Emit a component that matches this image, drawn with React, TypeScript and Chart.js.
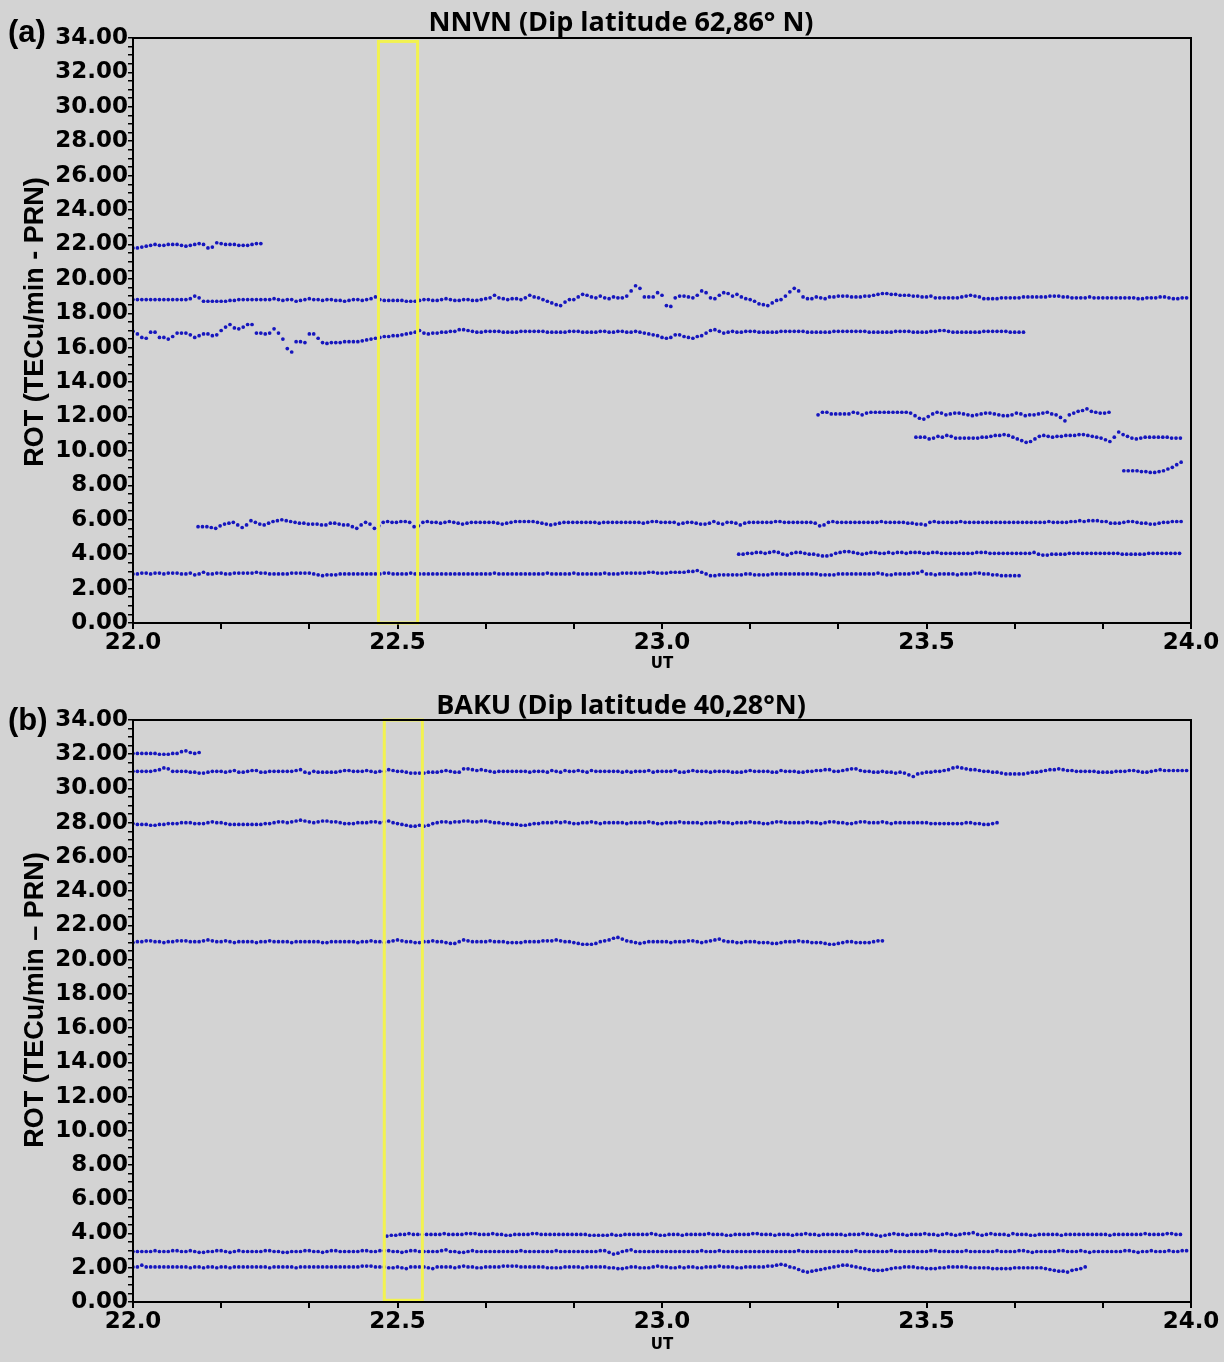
import React, { useEffect, useRef } from 'react';
import { Chart, registerables } from 'chart.js';
Chart.register(...registerables);

// ---------------- data ----------------
// sampling cadence: 30 s (in hours)
const STEP = 0.5 / 60;

const X_TICKS = [22.0, 22.1667, 22.3333, 22.5, 22.6667, 22.8333, 23.0, 23.1667, 23.3333, 23.5, 23.6667, 23.8333, 24.0];
const X_LABELS = ['22.0', '22.5', '23.0', '23.5', '24.0'];
const Y_LABELS = ['0.00', '2.00', '4.00', '6.00', '8.00', '10.00', '12.00', '14.00', '16.00', '18.00', '20.00', '22.00', '24.00', '26.00', '28.00', '30.00', '32.00', '34.00'];

// Panel (a) NNVN
const A1_START = 22.0;
const A1 = [21.8,21.8,21.85,21.9,21.95,22.0,21.95,21.95,22.0,22.0,22.0,21.95,21.9,21.95,22.0,22.05,22.0,21.8,21.85,22.1,22.05,22.0,22.0,22.0,21.95,21.95,21.95,22.0,22.05,22.05];

const A2_START = 22.0;
const A2 = [
18.8,18.8,18.8,18.8,18.8,18.8,18.8,18.8,18.8,18.8, 18.8,18.8,18.8,18.85,19.0,18.9,18.7,18.7,18.7,18.7,
18.7,18.7,18.75,18.75,18.8,18.8,18.8,18.8,18.8,18.8, 18.8,18.8,18.85,18.8,18.75,18.8,18.8,18.7,18.75,18.8,
18.85,18.8,18.8,18.75,18.8,18.8,18.75,18.75,18.7,18.75, 18.8,18.8,18.75,18.8,18.85,18.95,18.8,18.75,18.75,18.75,
18.75,18.75,18.7,18.7,18.7,18.75,18.8,18.8,18.75,18.75, 18.8,18.85,18.8,18.75,18.75,18.8,18.8,18.75,18.75,18.8,
18.85,18.9,19.05,18.9,18.85,18.8,18.85,18.85,18.8,18.9, 19.05,18.95,18.9,18.8,18.7,18.6,18.5,18.45,18.65,18.8,
18.8,18.95,19.1,19.05,18.95,18.9,19.0,18.9,18.85,18.95, 18.9,18.9,19.0,19.3,19.6,19.45,18.95,18.95,18.95,19.2,
19.05,18.45,18.4,18.9,19.0,19.0,18.95,18.9,19.05,19.3, 19.2,18.9,18.85,19.05,19.2,19.15,19.0,19.1,18.95,18.85,
18.8,18.7,18.55,18.5,18.45,18.6,18.75,18.8,19.0,19.25, 19.45,19.3,18.95,18.85,18.85,18.95,18.9,18.85,18.95,18.95,
19.0,19.0,19.0,18.95,18.95,18.95,19.0,19.0,19.05,19.1, 19.15,19.15,19.1,19.1,19.05,19.05,19.05,19.0,19.0,18.95,
18.95,19.0,18.9,18.9,18.9,18.9,18.9,18.9,18.95,19.0, 19.05,19.0,18.95,18.85,18.85,18.85,18.85,18.9,18.9,18.9,
18.9,18.9,18.95,18.95,18.95,18.95,18.95,18.95,19.0,19.0, 19.0,18.95,18.95,18.9,18.9,18.9,18.9,18.95,18.9,18.9,
18.9,18.9,18.9,18.9,18.9,18.9,18.9,18.9,18.85,18.85, 18.9,18.9,18.9,18.95,18.95,18.9,18.85,18.85,18.9,18.9];

const A3_START = 22.0;
const A3 = [
16.95,16.8,16.6,16.55,16.9,16.9,16.6,16.6,16.5,16.65, 16.85,16.85,16.85,16.75,16.6,16.7,16.8,16.8,16.7,16.75,
17.0,17.2,17.35,17.15,17.1,17.2,17.35,17.35,16.85,16.85, 16.8,16.85,17.1,16.85,16.5,15.95,15.75,16.35,16.35,16.3,
16.8,16.8,16.55,16.3,16.25,16.3,16.3,16.3,16.35,16.35, 16.35,16.35,16.4,16.45,16.5,16.55,16.6,16.65,16.65,16.7,
16.7,16.75,16.8,16.85,16.9,17.0,16.85,16.8,16.85,16.85, 16.9,16.9,16.95,16.95,17.05,17.05,17.0,16.95,16.9,16.9,
16.95,16.95,16.95,16.95,16.9,16.9,16.9,16.9,16.95,16.95, 16.95,16.95,16.95,16.95,16.9,16.9,16.9,16.9,16.9,16.95,
16.95,16.95,16.9,16.9,16.9,16.9,16.95,16.95,16.9,16.9, 16.95,16.95,16.9,16.9,16.95,16.9,16.85,16.8,16.75,16.7,
16.6,16.55,16.6,16.75,16.75,16.65,16.6,16.55,16.65,16.7, 16.85,17.0,17.05,16.95,16.85,16.9,16.95,16.9,16.9,16.95,
16.95,16.95,16.9,16.9,16.9,16.9,16.9,16.95,16.95,16.95, 16.95,16.95,16.95,16.9,16.9,16.9,16.9,16.9,16.9,16.95,
16.95,16.95,16.95,16.95,16.95,16.95,16.95,16.9,16.9,16.9, 16.9,16.9,16.9,16.95,16.95,16.95,16.95,16.9,16.9,16.9,
16.9,16.95,16.95,17.0,17.0,16.95,16.9,16.9,16.9,16.9, 16.9,16.9,16.9,16.95,16.95,16.95,16.95,16.95,16.95,16.9,
16.9,16.9,16.9];

const A4_START = 23.295;
const A4 = [
12.1,12.25,12.25,12.15,12.15,12.15,12.15,12.15,12.25,12.2, 12.1,12.2,12.25,12.25,12.25,12.25,12.25,12.25,12.25,12.25,
12.25,12.2,12.05,11.9,11.85,12.0,12.15,12.25,12.2,12.1, 12.15,12.2,12.2,12.15,12.1,12.05,12.1,12.15,12.2,12.2,
12.15,12.1,12.05,12.05,12.1,12.2,12.15,12.05,12.1,12.1, 12.15,12.2,12.25,12.15,12.1,11.95,11.75,12.1,12.2,12.3,
12.35,12.45,12.3,12.25,12.2,12.2,12.25];

const A5_START = 23.48;
const A5 = [
10.8,10.8,10.8,10.7,10.75,10.85,10.8,10.9,10.85,10.75, 10.75,10.75,10.75,10.75,10.75,10.8,10.8,10.85,10.9,10.9,
10.95,10.9,10.8,10.7,10.6,10.5,10.55,10.7,10.85,10.9, 10.85,10.8,10.85,10.85,10.9,10.9,10.9,10.95,10.95,10.9,
10.85,10.8,10.75,10.65,10.55,10.8,11.1,10.95,10.85,10.75, 10.7,10.75,10.8,10.8,10.8,10.8,10.8,10.8,10.75,10.75,10.75];

const A6_START = 23.873;
const A6 = [8.85,8.85,8.85,8.85,8.8,8.8,8.75,8.75,8.8,8.85,8.95,9.05,9.2,9.35];

const A7_START = 22.123;
const A7 = [
5.6,5.6,5.6,5.55,5.5,5.65,5.75,5.8,5.85,5.7, 5.55,5.7,5.95,5.85,5.75,5.7,5.8,5.9,5.95,6.0,
5.95,5.9,5.85,5.8,5.8,5.75,5.75,5.75,5.7,5.7, 5.8,5.8,5.75,5.7,5.7,5.6,5.5,5.7,5.85,5.75,
5.5,5.65,5.85,5.9,5.85,5.85,5.9,5.9,5.85,5.6, 5.65,5.85,5.9,5.85,5.85,5.8,5.85,5.9,5.85,5.8,
5.75,5.8,5.85,5.85,5.85,5.85,5.85,5.85,5.8,5.75, 5.8,5.85,5.9,5.9,5.9,5.9,5.9,5.85,5.8,5.75,
5.7,5.75,5.8,5.85,5.85,5.85,5.85,5.85,5.85,5.85, 5.85,5.8,5.85,5.85,5.85,5.85,5.85,5.85,5.85,5.85,
5.85,5.8,5.85,5.9,5.9,5.85,5.85,5.85,5.85,5.75, 5.8,5.85,5.85,5.8,5.75,5.75,5.8,5.9,5.8,5.75,
5.85,5.85,5.8,5.7,5.8,5.85,5.85,5.85,5.85,5.85, 5.85,5.9,5.9,5.85,5.85,5.85,5.85,5.85,5.85,5.85,
5.8,5.65,5.7,5.85,5.9,5.85,5.85,5.85,5.85,5.85, 5.85,5.85,5.85,5.85,5.85,5.9,5.85,5.85,5.85,5.85,
5.85,5.8,5.8,5.75,5.75,5.7,5.85,5.9,5.85,5.85, 5.85,5.85,5.85,5.9,5.85,5.85,5.85,5.85,5.85,5.85,
5.85,5.85,5.85,5.85,5.85,5.85,5.85,5.85,5.85,5.85, 5.85,5.85,5.85,5.9,5.85,5.85,5.85,5.85,5.9,5.9,
5.95,5.9,5.95,5.95,5.95,5.9,5.9,5.8,5.8,5.8, 5.85,5.9,5.9,5.85,5.8,5.8,5.75,5.75,5.8,5.85,
5.85,5.9,5.9,5.9];

const A8_START = 23.145;
const A8 = [
4.0,4.0,4.05,4.05,4.1,4.1,4.05,4.1,4.15,4.1, 4.0,3.95,4.05,4.1,4.1,4.05,4.0,4.0,3.95,3.9,
3.9,3.95,4.05,4.1,4.15,4.15,4.1,4.05,4.0,4.05, 4.1,4.1,4.05,4.05,4.1,4.05,4.1,4.1,4.05,4.1,
4.1,4.1,4.05,4.05,4.1,4.1,4.05,4.05,4.05,4.05, 4.05,4.05,4.05,4.05,4.1,4.1,4.1,4.05,4.05,4.05,
4.05,4.05,4.05,4.05,4.05,4.05,4.05,4.1,4.0,3.95, 3.95,4.0,4.0,4.0,4.0,4.05,4.05,4.05,4.05,4.05,
4.05,4.05,4.05,4.05,4.05,4.05,4.05,4.0,4.0,4.0, 4.0,4.0,4.0,4.05,4.05,4.05,4.05,4.05,4.05,4.05,4.05];

const A9_START = 22.0;
const A9 = [
2.85,2.85,2.9,2.9,2.85,2.9,2.9,2.85,2.9,2.9, 2.9,2.85,2.85,2.9,2.8,2.85,2.95,2.85,2.85,2.9,
2.9,2.85,2.85,2.9,2.9,2.9,2.9,2.9,2.95,2.9, 2.9,2.85,2.85,2.85,2.85,2.85,2.9,2.9,2.9,2.9,
2.9,2.85,2.8,2.75,2.8,2.8,2.8,2.85,2.85,2.85, 2.85,2.85,2.85,2.85,2.85,2.85,2.85,2.9,2.9,2.85,
2.85,2.85,2.85,2.9,2.85,2.85,2.85,2.85,2.85,2.85, 2.85,2.85,2.85,2.85,2.85,2.85,2.85,2.85,2.85,2.85,
2.85,2.85,2.9,2.85,2.85,2.85,2.85,2.85,2.85,2.85, 2.85,2.85,2.85,2.85,2.9,2.85,2.85,2.85,2.85,2.85,
2.9,2.85,2.85,2.85,2.85,2.85,2.85,2.9,2.85,2.85, 2.85,2.9,2.9,2.9,2.9,2.9,2.9,2.95,2.95,2.9,
2.9,2.9,2.95,2.95,2.95,2.95,3.0,3.0,3.05,2.95, 2.85,2.75,2.75,2.8,2.8,2.8,2.8,2.8,2.8,2.85,
2.85,2.8,2.8,2.8,2.8,2.85,2.85,2.85,2.85,2.85, 2.85,2.85,2.85,2.85,2.85,2.85,2.8,2.8,2.8,2.8,
2.85,2.85,2.85,2.85,2.85,2.85,2.85,2.85,2.85,2.9, 2.85,2.8,2.8,2.85,2.85,2.85,2.85,2.9,2.9,3.0,
2.85,2.85,2.8,2.85,2.85,2.85,2.85,2.8,2.85,2.85, 2.85,2.9,2.9,2.85,2.85,2.8,2.8,2.75,2.75,2.75,2.75,2.75];

// Panel (b) BAKU
const B1_START = 22.0;
const B1 = [32.05,32.05,32.05,32.05,32.05,32.05,32.0,32.0,32.0,32.05,32.05,32.15,32.2,32.1,32.05,32.1];

const B2_START = 22.0;
const B2 = [
31.0,31.0,31.0,31.0,31.0,31.05,31.1,31.2,31.15,31.0, 31.0,31.0,31.0,30.95,30.95,30.9,30.9,30.95,31.0,31.0,
31.0,30.95,31.0,31.05,30.95,30.95,31.0,31.05,31.05,30.95, 30.95,31.0,31.0,31.0,31.0,31.0,31.0,31.05,31.1,30.95,
30.9,31.0,30.95,30.95,30.95,30.95,30.95,31.0,31.05,31.05, 31.0,31.0,31.0,31.05,31.0,30.95,31.0,31.0,31.1,31.05,
31.0,31.0,30.95,30.9,30.9,30.9,30.9,30.95,30.95,30.95, 31.0,31.05,31.0,30.95,30.95,31.15,31.15,31.1,31.05,31.1,
31.05,31.0,30.95,31.0,31.0,31.0,31.0,31.0,31.0,31.0, 30.95,31.0,31.0,31.0,30.95,31.05,31.0,30.95,31.05,31.0,
31.0,31.05,31.0,30.95,31.05,31.0,31.0,31.0,31.0,31.0, 31.0,30.95,31.0,30.95,31.0,31.0,31.0,31.05,30.95,31.0,
31.0,31.0,31.0,31.05,30.95,30.95,31.0,31.05,31.0,31.0, 31.0,30.95,31.0,31.0,31.0,31.0,30.95,30.95,30.95,31.0,
31.05,31.0,31.0,31.0,31.0,30.95,30.95,31.05,31.0,31.0, 31.0,30.95,30.95,31.0,31.0,31.05,31.05,31.1,31.1,31.0,
31.0,31.05,31.1,31.15,31.15,31.05,31.0,31.0,30.95,30.95, 31.0,30.95,30.95,30.9,30.95,30.9,30.8,30.7,30.85,30.9,
30.95,30.95,31.0,31.0,31.05,31.1,31.2,31.25,31.2,31.15, 31.1,31.1,31.05,31.0,31.0,30.95,30.95,30.9,30.85,30.85,
30.85,30.85,30.85,30.9,30.95,30.95,31.0,31.05,31.1,31.1, 31.15,31.1,31.05,31.05,31.0,31.0,31.0,31.0,31.0,30.95,
30.95,30.95,30.95,31.0,31.0,31.0,31.05,31.05,31.0,30.95, 30.95,31.0,31.05,31.1,31.05,31.05,31.05,31.05,31.05,31.05];

const B3_START = 22.0;
const B3 = [
27.95,27.9,27.9,27.9,27.85,27.85,27.9,27.9,27.95,27.95, 27.95,28.0,28.0,28.0,27.95,27.95,27.95,28.0,28.05,28.0,
28.0,27.95,27.9,27.9,27.9,27.9,27.9,27.9,27.9,27.9, 27.95,27.95,28.0,28.05,28.05,28.0,28.05,28.1,28.15,28.1,
28.05,28.0,28.05,28.1,28.1,28.05,28.05,28.0,27.95,27.95, 27.95,28.0,28.0,28.0,28.05,28.05,28.0,28.05,28.1,28.0,
27.95,27.9,27.85,27.8,27.8,27.85,27.8,27.85,27.95,28.0, 28.05,28.05,28.0,28.05,28.05,28.1,28.1,28.05,28.05,28.1,
28.1,28.05,28.0,28.0,27.95,27.95,27.9,27.9,27.85,27.85, 27.9,27.95,27.95,28.0,28.0,28.0,28.05,28.0,28.05,28.0,
27.95,27.95,28.0,28.0,28.05,28.0,27.95,28.0,28.0,28.0, 28.0,28.0,27.95,28.0,28.0,28.0,28.0,28.05,28.0,27.95,
27.95,28.0,28.0,28.0,28.05,28.0,28.0,28.0,28.0,27.95, 28.0,28.0,28.0,28.05,28.0,28.0,27.95,28.0,28.0,28.0,
28.05,28.0,28.0,27.95,27.95,28.0,28.05,28.05,28.0,28.0, 28.0,28.0,28.0,28.05,28.0,28.0,27.95,28.0,28.05,28.05,
28.0,28.0,27.95,27.95,28.0,28.05,28.05,28.0,28.0,28.0, 28.05,28.0,27.95,28.0,28.0,28.0,28.0,28.0,28.0,28.0,
28.0,27.95,27.95,27.95,27.95,27.95,27.95,27.95,27.95,28.0, 28.0,27.95,27.95,27.9,27.9,27.95,28.0];

const B4_START = 22.0;
const B4 = [
21.0,21.05,21.05,21.1,21.1,21.05,21.05,21.0,21.05,21.05, 21.1,21.1,21.1,21.05,21.05,21.05,21.1,21.15,21.1,21.05,
21.05,21.1,21.05,21.0,21.05,21.05,21.05,21.05,21.0,21.05, 21.05,21.1,21.05,21.05,21.05,21.05,21.0,21.05,21.05,21.05,
21.05,21.05,21.05,21.0,21.0,21.05,21.05,21.05,21.05,21.05, 21.05,21.0,21.05,21.05,21.1,21.05,21.05,21.0,21.05,21.1,
21.15,21.1,21.05,21.05,21.0,21.0,21.05,21.05,21.1,21.05, 21.05,21.0,20.95,20.95,21.05,21.15,21.1,21.05,21.05,21.05,
21.05,21.1,21.05,21.05,21.05,21.0,21.0,21.0,21.0,21.05, 21.05,21.05,21.05,21.1,21.1,21.1,21.15,21.1,21.05,21.05,
21.0,20.95,20.9,20.9,20.9,20.95,21.05,21.1,21.15,21.25, 21.3,21.2,21.1,21.05,21.0,20.95,21.0,21.05,21.05,21.05,
21.05,21.05,21.0,21.05,21.05,21.05,21.1,21.1,21.05,21.0, 21.05,21.1,21.15,21.2,21.1,21.05,21.05,21.0,21.0,21.05,
21.05,21.05,21.0,21.0,21.0,20.95,20.95,21.0,21.05,21.05, 21.05,21.1,21.05,21.05,21.0,21.0,21.0,20.95,20.9,20.9,
20.95,21.0,21.05,21.05,21.0,21.0,21.0,21.0,21.05,21.1,21.1];

const B5_START = 22.48;
const B5 = [
3.85,3.9,3.9,3.95,3.95,4.0,3.95,3.95,3.95,3.95, 3.95,3.95,3.95,4.0,3.95,3.95,3.95,3.95,4.0,4.0,
4.0,3.95,3.95,3.95,4.0,3.95,3.95,3.9,3.9,3.95, 3.95,3.95,3.95,4.0,4.0,3.95,3.95,3.95,3.95,3.95,
3.95,3.95,3.95,3.95,3.95,3.95,3.9,3.9,3.9,3.9, 3.9,3.95,3.9,3.9,3.95,3.95,3.95,3.95,3.95,3.95,
4.0,3.95,3.9,3.9,3.95,3.95,3.95,3.9,3.95,3.95, 3.95,3.95,3.95,4.0,3.95,3.95,3.95,3.9,3.9,3.95,
3.95,3.95,3.95,4.0,4.0,3.95,3.95,3.95,3.9,3.95, 3.95,3.95,3.9,3.95,3.95,4.0,3.95,3.95,3.9,3.95,
3.95,3.95,3.95,3.95,3.9,3.95,3.95,3.95,4.0,3.95, 3.95,3.9,3.85,3.9,3.95,4.0,3.95,3.95,3.9,3.95,
3.95,3.95,4.0,3.95,3.95,3.9,3.95,4.0,3.95,3.9, 3.95,4.0,4.0,4.05,3.95,3.9,3.95,4.0,3.95,3.95,
3.95,3.9,4.0,3.95,3.95,3.95,3.9,3.9,3.95,3.95, 3.95,3.95,3.95,3.9,3.95,3.95,3.95,3.95,3.95,3.95,
3.95,3.95,3.95,3.95,3.9,3.95,3.95,3.95,3.95,3.95, 3.95,3.95,4.0,3.95,3.95,3.95,3.95,4.0,4.0,3.95,3.95];

const B6_START = 22.0;
const B6 = [
2.95,2.95,2.95,2.95,2.95,3.0,2.95,2.95,2.95,3.0, 3.0,2.95,2.95,3.0,2.95,2.9,2.9,2.95,2.95,3.0,
3.0,2.95,2.9,2.95,3.0,2.95,2.95,2.95,2.95,2.95, 3.0,3.0,2.95,2.95,2.9,2.9,2.95,2.95,2.95,3.0,
3.0,2.95,2.95,2.9,2.95,3.0,3.0,2.95,2.95,2.95, 2.95,2.95,3.0,3.0,2.95,2.95,3.0,3.0,3.0,2.95,
2.95,2.9,2.95,3.0,3.0,2.95,2.95,2.95,2.95,2.95, 3.0,3.05,2.95,2.95,2.9,2.9,2.95,3.0,2.95,2.95,
2.95,2.95,2.95,2.95,2.95,2.95,2.95,2.95,3.0,2.95, 2.95,2.95,2.95,2.95,2.95,2.95,3.0,2.95,2.95,2.95,
2.95,2.95,2.95,2.95,2.95,2.95,3.0,3.0,2.9,2.8, 2.85,2.95,3.0,3.05,2.95,2.95,2.95,2.95,2.95,2.95,
2.95,2.95,2.95,2.95,2.95,2.95,2.95,2.95,2.95,3.0, 2.95,2.95,2.95,3.0,2.95,2.95,2.95,2.95,2.95,2.95,
2.95,2.95,2.95,2.95,2.95,2.95,2.95,2.95,2.95,2.95, 2.95,3.0,2.95,2.95,2.95,2.95,2.95,2.95,2.95,2.95,
2.95,2.95,2.95,2.95,3.0,2.95,2.95,2.95,2.95,2.95, 2.95,2.95,3.0,2.95,2.95,2.95,2.95,2.95,2.95,2.95,
2.95,3.0,3.0,2.95,2.95,2.95,2.95,2.95,2.95,3.0, 2.95,2.95,2.95,2.95,2.95,2.95,3.0,2.95,2.95,2.95,
2.95,3.0,3.0,2.95,2.9,2.95,2.95,2.95,2.95,2.95, 3.0,3.0,2.95,2.95,2.95,3.0,2.95,2.9,2.95,2.95,
2.95,2.95,2.95,2.95,2.95,3.0,3.0,2.95,2.9,2.95, 2.95,3.0,2.95,2.95,2.95,3.0,2.95,2.95,3.0,3.0];

const B7_START = 22.0;
const B7 = [
2.05,2.05,2.15,2.05,2.05,2.05,2.05,2.05,2.05,2.05, 2.05,2.05,2.05,2.0,2.05,2.05,2.0,2.05,2.05,2.0,
2.05,2.05,2.0,2.05,2.05,2.05,2.05,2.05,2.05,2.05, 2.05,2.0,2.05,2.05,2.05,2.05,2.05,2.0,2.05,2.05,
2.05,2.05,2.05,2.05,2.05,2.05,2.05,2.05,2.05,2.05, 2.05,2.05,2.1,2.1,2.1,2.05,2.05,2.05,2.0,2.0,
2.05,2.0,1.95,2.05,2.05,2.05,2.05,2.0,1.95,2.05, 2.05,2.05,2.05,2.0,2.05,2.1,2.05,2.05,2.0,2.0,
2.05,2.05,2.05,2.05,2.1,2.1,2.1,2.1,2.05,2.05, 2.05,2.05,2.05,2.05,2.0,2.0,2.0,2.0,2.05,2.05,
2.05,2.05,2.0,2.05,2.05,2.05,2.05,2.05,2.0,2.0, 1.95,1.95,2.0,2.05,2.05,2.0,2.0,2.0,2.05,2.1,
2.05,2.05,2.0,2.0,2.05,2.0,2.05,2.05,2.0,2.0, 2.05,2.05,2.05,2.1,2.05,2.05,2.05,2.0,2.0,2.05,
2.05,2.05,2.05,2.05,2.1,2.1,2.15,2.2,2.15,2.05, 2.0,1.9,1.8,1.75,1.8,1.85,1.9,1.95,2.0,2.05,
2.1,2.15,2.15,2.1,2.05,2.0,1.95,1.9,1.85,1.85, 1.85,1.9,1.95,2.0,2.0,2.05,2.05,2.05,2.0,2.0,
1.95,1.95,1.95,2.0,2.0,2.05,2.05,2.05,2.05,2.05, 2.0,2.0,2.0,2.0,2.0,1.95,1.95,1.95,1.95,1.95,
2.0,2.0,2.0,2.0,2.0,2.0,2.0,1.95,1.9,1.85, 1.8,1.8,1.75,1.85,1.9,1.95,2.05];

// highlighted interval boxes [xFrom, xTo, yFrom, yTo]
const BOX_A = [22.464, 22.538, 0.0, 33.8];
const BOX_B = [22.475, 22.547, 0.1, 34.0];

const TITLE_A = 'NNVN (Dip latitude 62,86° N)';
const TITLE_B = 'BAKU (Dip latitude 40,28°N)';
const YTITLE_A = 'ROT (TECu/min - PRN)';
const YTITLE_B = 'ROT (TECu/min – PRN)';

// ---------------- chart ----------------
const DOT = 'rgb(22,22,190)';
const BG = '#d3d3d3';
const TICK_FONT = { family: 'DejaVu Sans', size: 23, weight: 'bold' as const };

function toPoints(start: number, values: number[]) {
  return values.map((v, i) => ({ x: start + i * STEP, y: v }));
}

type PanelCfg = {
  series: { start: number; values: number[] }[];
  box: number[];
  title: string;
  letter: string;
  yTitle: string;
  height: number;
  areaTop: number;
  areaBottom: number;
  titleY: number;
  letterY: number;
  yTitleY: number;
  utY: number;
};

function Panel({ cfg, top }: { cfg: PanelCfg; top: number }) {
  const ref = useRef<HTMLCanvasElement | null>(null);
  useEffect(() => {
    if (!ref.current) return;
    const W = 1224;
    const decor = {
      id: 'decor',
      afterDatasetsDraw(chart: any) {
        const ctx = chart.ctx;
        const sx = chart.scales.x, sy = chart.scales.y;
        const x0 = sx.getPixelForValue(cfg.box[0]);
        const x1 = sx.getPixelForValue(cfg.box[1]);
        const y0 = sy.getPixelForValue(cfg.box[2]);
        const y1 = sy.getPixelForValue(cfg.box[3]);
        ctx.save();
        ctx.strokeStyle = '#f2f250';
        ctx.lineWidth = 3;
        ctx.strokeRect(x0, y1, x1 - x0, y0 - y1);
        ctx.restore();
      },
      afterDraw(chart: any) {
        const ctx = chart.ctx;
        const a = chart.chartArea;
        ctx.save();
        ctx.strokeStyle = '#000';
        ctx.lineWidth = 2;
        ctx.strokeRect(a.left, a.top, a.right - a.left, a.bottom - a.top);
        ctx.fillStyle = '#000';
        // title
        ctx.font = 'bold 27px "Open Sans"';
        ctx.textAlign = 'center';
        ctx.textBaseline = 'alphabetic';
        ctx.fillText(cfg.title, 621, cfg.titleY);
        // panel letter
        ctx.font = 'bold 31px "Liberation Sans"';
        ctx.textAlign = 'left';
        ctx.fillText(cfg.letter, 8, cfg.letterY);
        // x axis title
        ctx.font = 'bold 15px "DejaVu Sans"';
        ctx.textAlign = 'center';
        ctx.fillText('UT', 662, cfg.utY);
        // y axis title
        ctx.translate(43, cfg.yTitleY);
        ctx.rotate(-Math.PI / 2);
        ctx.font = 'bold 27px "Liberation Sans"';
        ctx.textAlign = 'center';
        ctx.textBaseline = 'alphabetic';
        ctx.fillText(cfg.yTitle, 0, 0);
        ctx.restore();
      },
    };
    const chart = new Chart(ref.current, {
      type: 'scatter',
      data: {
        datasets: cfg.series.map((s) => ({
          data: toPoints(s.start, s.values),
          backgroundColor: DOT,
          borderColor: DOT,
          borderWidth: 0,
          pointRadius: 1.85,
          pointHoverRadius: 1.85,
          showLine: false,
        })),
      },
      options: {
        animation: false,
        responsive: false,
        events: [],
        layout: { padding: { left: 0, right: W - 1191, top: cfg.areaTop, bottom: 0 } },
        plugins: { legend: { display: false }, tooltip: { enabled: false }, title: { display: false } },
        scales: {
          x: {
            type: 'linear',
            min: 22,
            max: 24,
            afterBuildTicks: (s: any) => {
              s.ticks = X_TICKS.map((v) => ({ value: v }));
            },
            afterFit: (s: any) => {
              s.height = cfg.height - cfg.areaBottom;
            },
            ticks: {
              autoSkip: false,
              maxRotation: 0,
              padding: 0,
              color: '#000',
              font: TICK_FONT,
              callback: (v: any) => {
                const lab = Number(v).toFixed(1);
                return X_LABELS.includes(lab) && Math.abs(v * 2 - Math.round(v * 2)) < 1e-3 ? lab : '';
              },
            },
            grid: { drawOnChartArea: false, color: '#000', lineWidth: 2, tickLength: 6 },
            border: { color: '#000', width: 2 },
          },
          y: {
            type: 'linear',
            min: 0,
            max: 34,
            afterBuildTicks: (s: any) => {
              const t = [] as { value: number }[];
              for (let k = 0; k <= 68; k++) t.push({ value: k * 0.5 });
              s.ticks = t;
            },
            afterFit: (s: any) => {
              s.width = 133;
            },
            ticks: {
              autoSkip: false,
              padding: 0,
              color: '#000',
              font: TICK_FONT,
              callback: (v: any) => {
                const lab = Number(v).toFixed(2);
                return Y_LABELS.includes(lab) ? lab : '';
              },
            },
            grid: { drawOnChartArea: false, color: '#000', lineWidth: 1.5, tickLength: 5 },
            border: { color: '#000', width: 2 },
          },
        },
      },
      plugins: [decor],
    } as any);
    return () => chart.destroy();
  }, [cfg]);
  return (
    <div style={{ position: 'absolute', left: 0, top, width: 1224, height: cfg.height }}>
      <canvas ref={ref} width={1224} height={cfg.height} style={{ width: 1224, height: cfg.height, display: 'block' }} />
    </div>
  );
}

const PANEL_A: PanelCfg = {
  series: [
    { start: A1_START, values: A1 }, { start: A2_START, values: A2 }, { start: A3_START, values: A3 },
    { start: A4_START, values: A4 }, { start: A5_START, values: A5 }, { start: A6_START, values: A6 },
    { start: A7_START, values: A7 }, { start: A8_START, values: A8 }, { start: A9_START, values: A9 },
  ],
  box: BOX_A,
  title: TITLE_A,
  letter: '(a)',
  yTitle: YTITLE_A,
  height: 680,
  areaTop: 38,
  areaBottom: 623,
  titleY: 31,
  letterY: 42,
  yTitleY: 322,
  utY: 668,
};

const PANEL_B: PanelCfg = {
  series: [
    { start: B1_START, values: B1 }, { start: B2_START, values: B2 }, { start: B3_START, values: B3 },
    { start: B4_START, values: B4 }, { start: B5_START, values: B5 }, { start: B6_START, values: B6 },
    { start: B7_START, values: B7 },
  ],
  box: BOX_B,
  title: TITLE_B,
  letter: '(b)',
  yTitle: YTITLE_B,
  height: 682,
  areaTop: 40,
  areaBottom: 622,
  titleY: 34,
  letterY: 50,
  yTitleY: 320,
  utY: 669,
};

export default function App() {
  return (
    <div style={{ position: 'absolute', left: 0, top: 0, width: 1224, height: 1362, background: BG, overflow: 'hidden' }}>
      <Panel cfg={PANEL_A} top={0} />
      <Panel cfg={PANEL_B} top={680} />
    </div>
  );
}
